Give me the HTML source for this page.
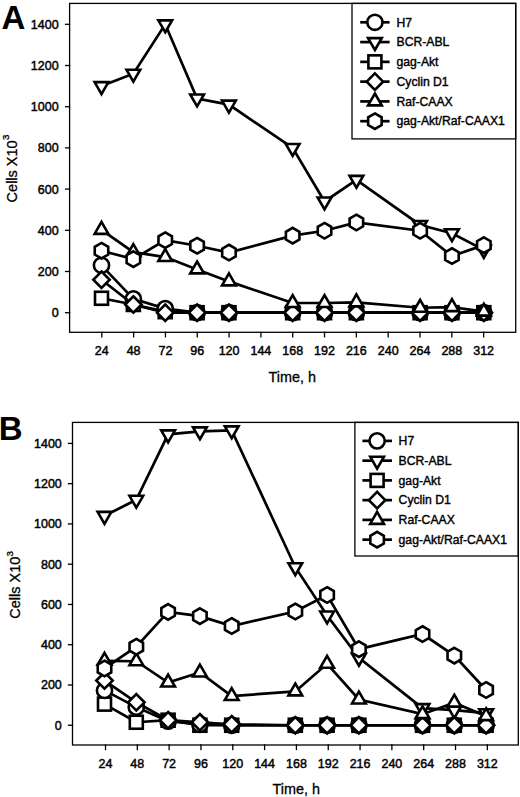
<!DOCTYPE html>
<html><head><meta charset="utf-8"><style>
html,body{margin:0;padding:0;background:#fff;}
body{width:520px;height:797px;overflow:hidden;font-family:"Liberation Sans", sans-serif;}
svg{display:block;}
</style></head><body>
<svg width="520" height="797" viewBox="0 0 520 797"><g fill="none" stroke="#000" stroke-width="1.3" stroke-linecap="square">
<rect x="69.6" y="3.4" width="446.1" height="328.90000000000003"/>
<line x1="65.60" y1="312.70" x2="69.60" y2="312.70"/>
<line x1="65.60" y1="271.50" x2="69.60" y2="271.50"/>
<line x1="65.60" y1="230.30" x2="69.60" y2="230.30"/>
<line x1="65.60" y1="189.10" x2="69.60" y2="189.10"/>
<line x1="65.60" y1="147.90" x2="69.60" y2="147.90"/>
<line x1="65.60" y1="106.70" x2="69.60" y2="106.70"/>
<line x1="65.60" y1="65.50" x2="69.60" y2="65.50"/>
<line x1="65.60" y1="24.30" x2="69.60" y2="24.30"/>
<line x1="101.80" y1="332.30" x2="101.80" y2="336.80"/>
<line x1="133.62" y1="332.30" x2="133.62" y2="336.80"/>
<line x1="165.44" y1="332.30" x2="165.44" y2="336.80"/>
<line x1="197.26" y1="332.30" x2="197.26" y2="336.80"/>
<line x1="229.08" y1="332.30" x2="229.08" y2="336.80"/>
<line x1="260.90" y1="332.30" x2="260.90" y2="336.80"/>
<line x1="292.72" y1="332.30" x2="292.72" y2="336.80"/>
<line x1="324.54" y1="332.30" x2="324.54" y2="336.80"/>
<line x1="356.36" y1="332.30" x2="356.36" y2="336.80"/>
<line x1="388.18" y1="332.30" x2="388.18" y2="336.80"/>
<line x1="420.00" y1="332.30" x2="420.00" y2="336.80"/>
<line x1="451.82" y1="332.30" x2="451.82" y2="336.80"/>
<line x1="483.64" y1="332.30" x2="483.64" y2="336.80"/>
<rect x="352.0" y="3.4" width="163.70000000000005" height="135.5"/>
</g>
<g font-family='"Liberation Sans", sans-serif' font-size="12.5" fill="#000" stroke="#000" stroke-width="0.45">
<text x="58.6" y="317.20" text-anchor="end">0</text>
<text x="58.6" y="276.00" text-anchor="end">200</text>
<text x="58.6" y="234.80" text-anchor="end">400</text>
<text x="58.6" y="193.60" text-anchor="end">600</text>
<text x="58.6" y="152.40" text-anchor="end">800</text>
<text x="58.6" y="111.20" text-anchor="end">1000</text>
<text x="58.6" y="70.00" text-anchor="end">1200</text>
<text x="58.6" y="28.80" text-anchor="end">1400</text>
<text x="101.80" y="355.0" text-anchor="middle">24</text>
<text x="133.62" y="355.0" text-anchor="middle">48</text>
<text x="165.44" y="355.0" text-anchor="middle">72</text>
<text x="197.26" y="355.0" text-anchor="middle">96</text>
<text x="229.08" y="355.0" text-anchor="middle">120</text>
<text x="260.90" y="355.0" text-anchor="middle">144</text>
<text x="292.72" y="355.0" text-anchor="middle">168</text>
<text x="324.54" y="355.0" text-anchor="middle">192</text>
<text x="356.36" y="355.0" text-anchor="middle">216</text>
<text x="388.18" y="355.0" text-anchor="middle">240</text>
<text x="420.00" y="355.0" text-anchor="middle">264</text>
<text x="451.82" y="355.0" text-anchor="middle">288</text>
<text x="483.64" y="355.0" text-anchor="middle">312</text>
</g>
<text x="292.3" y="381.6" font-family='"Liberation Sans", sans-serif' font-size="14.4" text-anchor="middle" stroke="#000" stroke-width="0.3">Time, h</text>
<text transform="translate(16.7,202.4) rotate(-90)" font-family='"Liberation Sans", sans-serif' font-size="14.5" stroke="#000" stroke-width="0.3">Cells X10<tspan font-size="9.8" dx="0.3" dy="-7.3">3</tspan></text>
<text x="1.5" y="28.6" font-family='"Liberation Sans", sans-serif' font-weight="bold" font-size="33">A</text>
<line x1="360.2" y1="22.30" x2="389.6" y2="22.30" stroke="#000" stroke-width="2.7"/>
<g fill="#fff" stroke="#000" stroke-width="2.6"><circle cx="374.90" cy="22.30" r="7.6"/></g>
<text x="396.5" y="26.50" font-family='"Liberation Sans", sans-serif' font-size="12.2" stroke="#000" stroke-width="0.4">H7</text>
<line x1="360.2" y1="42.08" x2="389.6" y2="42.08" stroke="#000" stroke-width="2.7"/>
<g fill="#fff" stroke="#000" stroke-width="2.6"><polygon points="374.90,50.02 381.77,38.11 368.02,38.11"/></g>
<text x="396.5" y="46.28" font-family='"Liberation Sans", sans-serif' font-size="12.2" stroke="#000" stroke-width="0.4">BCR-ABL</text>
<line x1="360.2" y1="61.86" x2="389.6" y2="61.86" stroke="#000" stroke-width="2.7"/>
<g fill="#fff" stroke="#000" stroke-width="2.6"><rect x="368.40" y="55.36" width="13.00" height="13.00"/></g>
<text x="396.5" y="66.06" font-family='"Liberation Sans", sans-serif' font-size="12.2" stroke="#000" stroke-width="0.4">gag-Akt</text>
<line x1="360.2" y1="81.64" x2="389.6" y2="81.64" stroke="#000" stroke-width="2.7"/>
<g fill="#fff" stroke="#000" stroke-width="2.6"><polygon points="374.90,73.44 383.10,81.64 374.90,89.84 366.70,81.64"/></g>
<text x="396.5" y="85.84" font-family='"Liberation Sans", sans-serif' font-size="12.2" stroke="#000" stroke-width="0.4">Cyclin D1</text>
<line x1="360.2" y1="101.42" x2="389.6" y2="101.42" stroke="#000" stroke-width="2.7"/>
<g fill="#fff" stroke="#000" stroke-width="2.6"><polygon points="374.90,93.48 381.77,105.39 368.02,105.39"/></g>
<text x="396.5" y="105.62" font-family='"Liberation Sans", sans-serif' font-size="12.2" stroke="#000" stroke-width="0.4">Raf-CAAX</text>
<line x1="360.2" y1="121.20" x2="389.6" y2="121.20" stroke="#000" stroke-width="2.7"/>
<g fill="#fff" stroke="#000" stroke-width="2.6"><polygon points="374.90,113.40 381.65,117.30 381.65,125.10 374.90,129.00 368.15,125.10 368.15,117.30"/></g>
<text x="396.5" y="125.40" font-family='"Liberation Sans", sans-serif' font-size="12.2" stroke="#000" stroke-width="0.4">gag-Akt/Raf-CAAX1</text>
<polyline fill="none" stroke="#000" stroke-width="2.7" stroke-linejoin="miter" points="101.50,298.28 133.36,304.46 165.22,311.67 197.08,312.70 228.94,312.70 292.66,312.70 324.52,312.70 356.38,312.70 420.10,312.70 451.96,312.70 483.82,312.70"/>
<g fill="#fff" stroke="#000" stroke-width="2.6" stroke-linejoin="miter"><rect x="95.00" y="291.78" width="13.00" height="13.00"/><rect x="126.86" y="297.96" width="13.00" height="13.00"/><rect x="158.72" y="305.17" width="13.00" height="13.00"/><rect x="190.58" y="306.20" width="13.00" height="13.00"/><rect x="222.44" y="306.20" width="13.00" height="13.00"/><rect x="286.16" y="306.20" width="13.00" height="13.00"/><rect x="318.02" y="306.20" width="13.00" height="13.00"/><rect x="349.88" y="306.20" width="13.00" height="13.00"/><rect x="413.60" y="306.20" width="13.00" height="13.00"/><rect x="445.46" y="306.20" width="13.00" height="13.00"/><rect x="477.32" y="306.20" width="13.00" height="13.00"/></g>
<polyline fill="none" stroke="#000" stroke-width="2.7" stroke-linejoin="miter" points="101.50,265.32 133.36,298.90 165.22,308.58 197.08,312.70 228.94,312.70 292.66,312.70 324.52,312.70 356.38,312.70 420.10,312.70 451.96,312.70 483.82,312.70"/>
<g fill="#fff" stroke="#000" stroke-width="2.6" stroke-linejoin="miter"><circle cx="101.50" cy="265.32" r="7.6"/><circle cx="133.36" cy="298.90" r="7.6"/><circle cx="165.22" cy="308.58" r="7.6"/><circle cx="197.08" cy="312.70" r="7.6"/><circle cx="228.94" cy="312.70" r="7.6"/><circle cx="292.66" cy="312.70" r="7.6"/><circle cx="324.52" cy="312.70" r="7.6"/><circle cx="356.38" cy="312.70" r="7.6"/><circle cx="420.10" cy="312.70" r="7.6"/><circle cx="451.96" cy="312.70" r="7.6"/><circle cx="483.82" cy="312.70" r="7.6"/></g>
<polyline fill="none" stroke="#000" stroke-width="2.7" stroke-linejoin="miter" points="101.50,86.10 133.36,73.74 165.22,24.30 197.08,98.46 228.94,104.64 292.66,147.90 324.52,201.46 356.38,179.83 420.10,224.94 451.96,233.18 483.82,249.87"/>
<g fill="#fff" stroke="#000" stroke-width="2.6" stroke-linejoin="miter"><polygon points="101.50,94.04 108.38,82.13 94.62,82.13"/><polygon points="133.36,81.68 140.24,69.77 126.49,69.77"/><polygon points="165.22,32.24 172.09,20.33 158.34,20.33"/><polygon points="197.08,106.40 203.95,94.49 190.20,94.49"/><polygon points="228.94,112.58 235.81,100.67 222.06,100.67"/><polygon points="292.66,155.84 299.53,143.93 285.78,143.93"/><polygon points="324.52,209.40 331.39,197.49 317.64,197.49"/><polygon points="356.38,187.77 363.25,175.86 349.50,175.86"/><polygon points="420.10,232.88 426.97,220.97 413.22,220.97"/><polygon points="451.96,241.12 458.83,229.21 445.08,229.21"/><polygon points="483.82,257.81 490.69,245.90 476.94,245.90"/></g>
<polyline fill="none" stroke="#000" stroke-width="2.7" stroke-linejoin="miter" points="101.50,279.74 133.36,304.46 165.22,312.70 197.08,312.70 228.94,312.70 292.66,312.70 324.52,312.70 356.38,312.70 420.10,312.70 451.96,312.70 483.82,312.70"/>
<g fill="#fff" stroke="#000" stroke-width="2.6" stroke-linejoin="miter"><polygon points="101.50,271.54 109.70,279.74 101.50,287.94 93.30,279.74"/><polygon points="133.36,296.26 141.56,304.46 133.36,312.66 125.16,304.46"/><polygon points="165.22,304.50 173.42,312.70 165.22,320.90 157.02,312.70"/><polygon points="197.08,304.50 205.28,312.70 197.08,320.90 188.88,312.70"/><polygon points="228.94,304.50 237.14,312.70 228.94,320.90 220.74,312.70"/><polygon points="292.66,304.50 300.86,312.70 292.66,320.90 284.46,312.70"/><polygon points="324.52,304.50 332.72,312.70 324.52,320.90 316.32,312.70"/><polygon points="356.38,304.50 364.58,312.70 356.38,320.90 348.18,312.70"/><polygon points="420.10,304.50 428.30,312.70 420.10,320.90 411.90,312.70"/><polygon points="451.96,304.50 460.16,312.70 451.96,320.90 443.76,312.70"/><polygon points="483.82,304.50 492.02,312.70 483.82,320.90 475.62,312.70"/></g>
<polyline fill="none" stroke="#000" stroke-width="2.7" stroke-linejoin="miter" points="101.50,229.89 133.36,252.14 165.22,257.08 197.08,269.44 228.94,281.39 292.66,303.02 324.52,303.02 356.38,302.40 420.10,307.76 451.96,307.14 483.82,311.67"/>
<g fill="#fff" stroke="#000" stroke-width="2.6" stroke-linejoin="miter"><polygon points="101.50,221.95 108.38,233.86 94.62,233.86"/><polygon points="133.36,244.20 140.24,256.11 126.49,256.11"/><polygon points="165.22,249.14 172.09,261.05 158.34,261.05"/><polygon points="197.08,261.50 203.95,273.41 190.20,273.41"/><polygon points="228.94,273.45 235.81,285.36 222.06,285.36"/><polygon points="292.66,295.08 299.53,306.99 285.78,306.99"/><polygon points="324.52,295.08 331.39,306.99 317.64,306.99"/><polygon points="356.38,294.46 363.25,306.37 349.50,306.37"/><polygon points="420.10,299.82 426.97,311.73 413.22,311.73"/><polygon points="451.96,299.20 458.83,311.11 445.08,311.11"/><polygon points="483.82,303.73 490.69,315.64 476.94,315.64"/></g>
<polyline fill="none" stroke="#000" stroke-width="2.7" stroke-linejoin="miter" points="101.50,250.69 133.36,259.14 165.22,240.19 197.08,245.75 228.94,252.55 292.66,235.66 324.52,230.71 356.38,222.47 420.10,230.71 451.96,256.05 483.82,245.13"/>
<g fill="#fff" stroke="#000" stroke-width="2.6" stroke-linejoin="miter"><polygon points="101.50,242.89 108.25,246.79 108.25,254.59 101.50,258.49 94.75,254.59 94.75,246.79"/><polygon points="133.36,251.34 140.11,255.24 140.11,263.04 133.36,266.94 126.61,263.04 126.61,255.24"/><polygon points="165.22,232.39 171.97,236.29 171.97,244.09 165.22,247.99 158.47,244.09 158.47,236.29"/><polygon points="197.08,237.95 203.83,241.85 203.83,249.65 197.08,253.55 190.33,249.65 190.33,241.85"/><polygon points="228.94,244.75 235.69,248.65 235.69,256.45 228.94,260.35 222.19,256.45 222.19,248.65"/><polygon points="292.66,227.86 299.41,231.76 299.41,239.56 292.66,243.46 285.91,239.56 285.91,231.76"/><polygon points="324.52,222.91 331.27,226.81 331.27,234.61 324.52,238.51 317.77,234.61 317.77,226.81"/><polygon points="356.38,214.67 363.13,218.57 363.13,226.37 356.38,230.27 349.63,226.37 349.63,218.57"/><polygon points="420.10,222.91 426.85,226.81 426.85,234.61 420.10,238.51 413.35,234.61 413.35,226.81"/><polygon points="451.96,248.25 458.71,252.15 458.71,259.95 451.96,263.85 445.21,259.95 445.21,252.15"/><polygon points="483.82,237.33 490.57,241.23 490.57,249.03 483.82,252.93 477.07,249.03 477.07,241.23"/></g><g fill="none" stroke="#000" stroke-width="1.3" stroke-linecap="square">
<rect x="72.5" y="422.4" width="445.79999999999995" height="322.6"/>
<line x1="68.50" y1="725.25" x2="72.50" y2="725.25"/>
<line x1="68.50" y1="684.99" x2="72.50" y2="684.99"/>
<line x1="68.50" y1="644.72" x2="72.50" y2="644.72"/>
<line x1="68.50" y1="604.46" x2="72.50" y2="604.46"/>
<line x1="68.50" y1="564.19" x2="72.50" y2="564.19"/>
<line x1="68.50" y1="523.93" x2="72.50" y2="523.93"/>
<line x1="68.50" y1="483.66" x2="72.50" y2="483.66"/>
<line x1="68.50" y1="443.40" x2="72.50" y2="443.40"/>
<line x1="105.50" y1="745.00" x2="105.50" y2="749.50"/>
<line x1="137.32" y1="745.00" x2="137.32" y2="749.50"/>
<line x1="169.14" y1="745.00" x2="169.14" y2="749.50"/>
<line x1="200.96" y1="745.00" x2="200.96" y2="749.50"/>
<line x1="232.78" y1="745.00" x2="232.78" y2="749.50"/>
<line x1="264.60" y1="745.00" x2="264.60" y2="749.50"/>
<line x1="296.42" y1="745.00" x2="296.42" y2="749.50"/>
<line x1="328.24" y1="745.00" x2="328.24" y2="749.50"/>
<line x1="360.06" y1="745.00" x2="360.06" y2="749.50"/>
<line x1="391.88" y1="745.00" x2="391.88" y2="749.50"/>
<line x1="423.70" y1="745.00" x2="423.70" y2="749.50"/>
<line x1="455.52" y1="745.00" x2="455.52" y2="749.50"/>
<line x1="487.34" y1="745.00" x2="487.34" y2="749.50"/>
<rect x="354.9" y="422.4" width="163.39999999999998" height="133.60000000000002"/>
</g>
<g font-family='"Liberation Sans", sans-serif' font-size="12.5" fill="#000" stroke="#000" stroke-width="0.45">
<text x="61.8" y="729.75" text-anchor="end">0</text>
<text x="61.8" y="689.49" text-anchor="end">200</text>
<text x="61.8" y="649.22" text-anchor="end">400</text>
<text x="61.8" y="608.96" text-anchor="end">600</text>
<text x="61.8" y="568.69" text-anchor="end">800</text>
<text x="61.8" y="528.43" text-anchor="end">1000</text>
<text x="61.8" y="488.16" text-anchor="end">1200</text>
<text x="61.8" y="447.90" text-anchor="end">1400</text>
<text x="105.50" y="767.5" text-anchor="middle">24</text>
<text x="137.32" y="767.5" text-anchor="middle">48</text>
<text x="169.14" y="767.5" text-anchor="middle">72</text>
<text x="200.96" y="767.5" text-anchor="middle">96</text>
<text x="232.78" y="767.5" text-anchor="middle">120</text>
<text x="264.60" y="767.5" text-anchor="middle">144</text>
<text x="296.42" y="767.5" text-anchor="middle">168</text>
<text x="328.24" y="767.5" text-anchor="middle">192</text>
<text x="360.06" y="767.5" text-anchor="middle">216</text>
<text x="391.88" y="767.5" text-anchor="middle">240</text>
<text x="423.70" y="767.5" text-anchor="middle">264</text>
<text x="455.52" y="767.5" text-anchor="middle">288</text>
<text x="487.34" y="767.5" text-anchor="middle">312</text>
</g>
<text x="296.2" y="793.8" font-family='"Liberation Sans", sans-serif' font-size="14.4" text-anchor="middle" stroke="#000" stroke-width="0.3">Time, h</text>
<text transform="translate(20.1,618.8) rotate(-90)" font-family='"Liberation Sans", sans-serif' font-size="14.5" stroke="#000" stroke-width="0.3">Cells X10<tspan font-size="9.8" dx="0.3" dy="-7.3">3</tspan></text>
<text x="-1.2" y="440.0" font-family='"Liberation Sans", sans-serif' font-weight="bold" font-size="33">B</text>
<line x1="362.4" y1="440.90" x2="392.0" y2="440.90" stroke="#000" stroke-width="2.7"/>
<g fill="#fff" stroke="#000" stroke-width="2.6"><circle cx="377.10" cy="440.90" r="7.6"/></g>
<text x="398.6" y="445.10" font-family='"Liberation Sans", sans-serif' font-size="12.2" stroke="#000" stroke-width="0.4">H7</text>
<line x1="362.4" y1="460.65" x2="392.0" y2="460.65" stroke="#000" stroke-width="2.7"/>
<g fill="#fff" stroke="#000" stroke-width="2.6"><polygon points="377.10,468.59 383.98,456.68 370.23,456.68"/></g>
<text x="398.6" y="464.85" font-family='"Liberation Sans", sans-serif' font-size="12.2" stroke="#000" stroke-width="0.4">BCR-ABL</text>
<line x1="362.4" y1="480.40" x2="392.0" y2="480.40" stroke="#000" stroke-width="2.7"/>
<g fill="#fff" stroke="#000" stroke-width="2.6"><rect x="370.60" y="473.90" width="13.00" height="13.00"/></g>
<text x="398.6" y="484.60" font-family='"Liberation Sans", sans-serif' font-size="12.2" stroke="#000" stroke-width="0.4">gag-Akt</text>
<line x1="362.4" y1="500.15" x2="392.0" y2="500.15" stroke="#000" stroke-width="2.7"/>
<g fill="#fff" stroke="#000" stroke-width="2.6"><polygon points="377.10,491.95 385.30,500.15 377.10,508.35 368.90,500.15"/></g>
<text x="398.6" y="504.35" font-family='"Liberation Sans", sans-serif' font-size="12.2" stroke="#000" stroke-width="0.4">Cyclin D1</text>
<line x1="362.4" y1="519.90" x2="392.0" y2="519.90" stroke="#000" stroke-width="2.7"/>
<g fill="#fff" stroke="#000" stroke-width="2.6"><polygon points="377.10,511.96 383.98,523.87 370.23,523.87"/></g>
<text x="398.6" y="524.10" font-family='"Liberation Sans", sans-serif' font-size="12.2" stroke="#000" stroke-width="0.4">Raf-CAAX</text>
<line x1="362.4" y1="539.65" x2="392.0" y2="539.65" stroke="#000" stroke-width="2.7"/>
<g fill="#fff" stroke="#000" stroke-width="2.6"><polygon points="377.10,531.85 383.85,535.75 383.85,543.55 377.10,547.45 370.35,543.55 370.35,535.75"/></g>
<text x="398.6" y="543.85" font-family='"Liberation Sans", sans-serif' font-size="12.2" stroke="#000" stroke-width="0.4">gag-Akt/Raf-CAAX1</text>
<polyline fill="none" stroke="#000" stroke-width="2.7" stroke-linejoin="miter" points="104.50,704.11 136.30,722.23 168.10,720.22 199.90,725.25 231.70,725.25 295.30,725.25 327.10,725.25 358.90,725.25 422.50,725.25 454.30,725.25 486.10,725.25"/>
<g fill="#fff" stroke="#000" stroke-width="2.6" stroke-linejoin="miter"><rect x="98.00" y="697.61" width="13.00" height="13.00"/><rect x="129.80" y="715.73" width="13.00" height="13.00"/><rect x="161.60" y="713.72" width="13.00" height="13.00"/><rect x="193.40" y="718.75" width="13.00" height="13.00"/><rect x="225.20" y="718.75" width="13.00" height="13.00"/><rect x="288.80" y="718.75" width="13.00" height="13.00"/><rect x="320.60" y="718.75" width="13.00" height="13.00"/><rect x="352.40" y="718.75" width="13.00" height="13.00"/><rect x="416.00" y="718.75" width="13.00" height="13.00"/><rect x="447.80" y="718.75" width="13.00" height="13.00"/><rect x="479.60" y="718.75" width="13.00" height="13.00"/></g>
<polyline fill="none" stroke="#000" stroke-width="2.7" stroke-linejoin="miter" points="104.50,690.42 136.30,707.13 168.10,721.22 199.90,724.24 231.70,725.25 295.30,725.25 327.10,725.25 358.90,725.25 422.50,725.25 454.30,725.25 486.10,725.25"/>
<g fill="#fff" stroke="#000" stroke-width="2.6" stroke-linejoin="miter"><circle cx="104.50" cy="690.42" r="7.6"/><circle cx="136.30" cy="707.13" r="7.6"/><circle cx="168.10" cy="721.22" r="7.6"/><circle cx="199.90" cy="724.24" r="7.6"/><circle cx="231.70" cy="725.25" r="7.6"/><circle cx="295.30" cy="725.25" r="7.6"/><circle cx="327.10" cy="725.25" r="7.6"/><circle cx="358.90" cy="725.25" r="7.6"/><circle cx="422.50" cy="725.25" r="7.6"/><circle cx="454.30" cy="725.25" r="7.6"/><circle cx="486.10" cy="725.25" r="7.6"/></g>
<polyline fill="none" stroke="#000" stroke-width="2.7" stroke-linejoin="miter" points="104.50,515.88 136.30,499.77 168.10,434.34 199.90,431.32 231.70,430.31 295.30,567.21 327.10,615.53 358.90,657.81 422.50,708.14 454.30,710.15 486.10,713.17"/>
<g fill="#fff" stroke="#000" stroke-width="2.6" stroke-linejoin="miter"><polygon points="104.50,523.81 111.38,511.91 97.62,511.91"/><polygon points="136.30,507.71 143.18,495.80 129.43,495.80"/><polygon points="168.10,442.28 174.97,430.37 161.22,430.37"/><polygon points="199.90,439.26 206.77,427.35 193.02,427.35"/><polygon points="231.70,438.25 238.57,426.34 224.82,426.34"/><polygon points="295.30,575.15 302.17,563.24 288.42,563.24"/><polygon points="327.10,623.47 333.98,611.56 320.23,611.56"/><polygon points="358.90,665.75 365.77,653.84 352.02,653.84"/><polygon points="422.50,716.08 429.38,704.17 415.62,704.17"/><polygon points="454.30,718.09 461.18,706.18 447.43,706.18"/><polygon points="486.10,721.11 492.97,709.20 479.22,709.20"/></g>
<polyline fill="none" stroke="#000" stroke-width="2.7" stroke-linejoin="miter" points="104.50,680.56 136.30,702.30 168.10,720.22 199.90,722.23 231.70,724.24 295.30,725.25 327.10,725.25 358.90,725.25 422.50,725.25 454.30,725.25 486.10,725.25"/>
<g fill="#fff" stroke="#000" stroke-width="2.6" stroke-linejoin="miter"><polygon points="104.50,672.36 112.70,680.56 104.50,688.76 96.30,680.56"/><polygon points="136.30,694.10 144.50,702.30 136.30,710.50 128.10,702.30"/><polygon points="168.10,712.02 176.30,720.22 168.10,728.42 159.90,720.22"/><polygon points="199.90,714.03 208.10,722.23 199.90,730.43 191.70,722.23"/><polygon points="231.70,716.04 239.90,724.24 231.70,732.44 223.50,724.24"/><polygon points="295.30,717.05 303.50,725.25 295.30,733.45 287.10,725.25"/><polygon points="327.10,717.05 335.30,725.25 327.10,733.45 318.90,725.25"/><polygon points="358.90,717.05 367.10,725.25 358.90,733.45 350.70,725.25"/><polygon points="422.50,717.05 430.70,725.25 422.50,733.45 414.30,725.25"/><polygon points="454.30,717.05 462.50,725.25 454.30,733.45 446.10,725.25"/><polygon points="486.10,717.05 494.30,725.25 486.10,733.45 477.90,725.25"/></g>
<polyline fill="none" stroke="#000" stroke-width="2.7" stroke-linejoin="miter" points="104.50,660.83 136.30,661.23 168.10,682.57 199.90,672.50 231.70,696.06 295.30,691.43 327.10,663.85 358.90,699.48 422.50,714.18 454.30,702.70 486.10,716.19"/>
<g fill="#fff" stroke="#000" stroke-width="2.6" stroke-linejoin="miter"><polygon points="104.50,652.89 111.38,664.80 97.62,664.80"/><polygon points="136.30,653.29 143.18,665.20 129.43,665.20"/><polygon points="168.10,674.63 174.97,686.54 161.22,686.54"/><polygon points="199.90,664.57 206.77,676.47 193.02,676.47"/><polygon points="231.70,688.12 238.57,700.03 224.82,700.03"/><polygon points="295.30,683.49 302.17,695.40 288.42,695.40"/><polygon points="327.10,655.91 333.98,667.82 320.23,667.82"/><polygon points="358.90,691.54 365.77,703.45 352.02,703.45"/><polygon points="422.50,706.24 429.38,718.15 415.62,718.15"/><polygon points="454.30,694.76 461.18,706.67 447.43,706.67"/><polygon points="486.10,708.25 492.97,720.16 479.22,720.16"/></g>
<polyline fill="none" stroke="#000" stroke-width="2.7" stroke-linejoin="miter" points="104.50,668.48 136.30,646.73 168.10,611.91 199.90,616.13 231.70,626.00 295.30,611.50 327.10,595.00 358.90,649.15 422.50,634.05 454.30,655.59 486.10,690.02"/>
<g fill="#fff" stroke="#000" stroke-width="2.6" stroke-linejoin="miter"><polygon points="104.50,660.68 111.25,664.58 111.25,672.38 104.50,676.28 97.75,672.38 97.75,664.58"/><polygon points="136.30,638.93 143.05,642.83 143.05,650.63 136.30,654.53 129.55,650.63 129.55,642.83"/><polygon points="168.10,604.11 174.85,608.01 174.85,615.81 168.10,619.71 161.35,615.81 161.35,608.01"/><polygon points="199.90,608.33 206.65,612.23 206.65,620.03 199.90,623.93 193.15,620.03 193.15,612.23"/><polygon points="231.70,618.20 238.45,622.10 238.45,629.90 231.70,633.80 224.95,629.90 224.95,622.10"/><polygon points="295.30,603.70 302.05,607.60 302.05,615.40 295.30,619.30 288.55,615.40 288.55,607.60"/><polygon points="327.10,587.20 333.85,591.10 333.85,598.90 327.10,602.80 320.35,598.90 320.35,591.10"/><polygon points="358.90,641.35 365.65,645.25 365.65,653.05 358.90,656.95 352.15,653.05 352.15,645.25"/><polygon points="422.50,626.25 429.25,630.15 429.25,637.95 422.50,641.85 415.75,637.95 415.75,630.15"/><polygon points="454.30,647.79 461.05,651.69 461.05,659.49 454.30,663.39 447.55,659.49 447.55,651.69"/><polygon points="486.10,682.22 492.85,686.12 492.85,693.92 486.10,697.82 479.35,693.92 479.35,686.12"/></g></svg>
</body></html>
